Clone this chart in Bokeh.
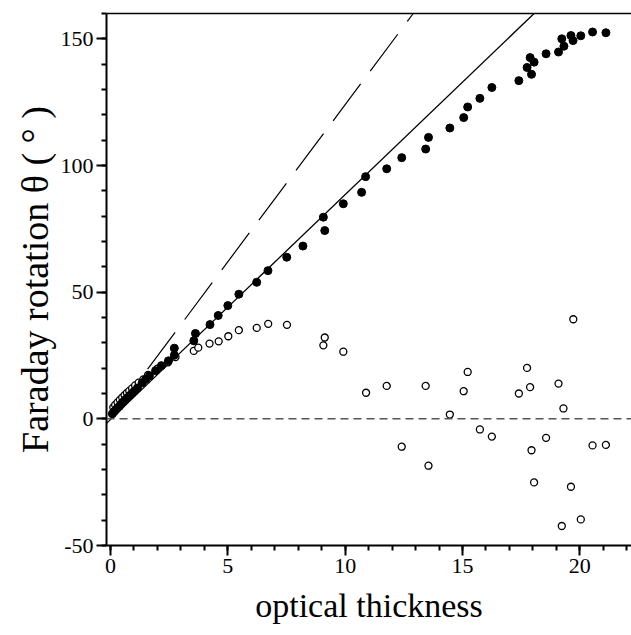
from bokeh.plotting import figure
from bokeh.models import LinearAxis, Range1d, FixedTicker, Span
from bokeh.embed import file_html
from bokeh.resources import INLINE

# ---- data ----
filled_x = [0.08, 0.15, 0.22, 0.30, 0.38, 0.45, 0.55, 0.63, 0.72, 0.82, 0.92, 1.02, 1.15,
            1.35, 1.50, 1.66, 1.92, 2.17, 2.47, 2.72, 2.72, 3.55, 3.62, 4.24, 4.59, 5.00,
            5.47, 6.23, 6.71, 7.51, 8.20, 9.07, 9.13, 9.92, 10.70, 10.87, 11.77, 12.41,
            13.43, 13.55, 14.46, 15.05, 15.22, 15.74, 16.25, 17.40, 17.75, 17.88, 17.94,
            18.05, 18.56, 19.09, 19.23, 19.32, 19.62, 19.71, 20.04, 20.54, 21.11]
filled_y = [2.0, 2.8, 3.5, 4.3, 5.0, 5.8, 6.7, 7.5, 8.3, 9.2, 10.1, 11.0, 12.2,
            14.2, 15.6, 17.0, 19.0, 21.0, 22.9, 25.1, 27.9, 30.8, 33.7, 37.2, 40.8, 44.7,
            49.2, 53.9, 58.5, 63.8, 68.2, 79.6, 74.3, 84.9, 89.4, 95.6, 98.7, 103.1,
            106.5, 111.1, 114.8, 118.9, 123.1, 126.5, 130.8, 133.5, 138.7, 142.6, 136.0,
            140.8, 144.1, 144.8, 150.0, 147.1, 151.3, 149.3, 151.2, 152.7, 152.4]

open_x = [0.12, 0.20, 0.30, 0.40, 0.50, 0.60, 0.70, 0.80, 0.92, 1.05, 1.20, 1.40, 1.60,
          2.00, 2.45, 2.77, 3.55, 3.74, 4.22, 4.61, 5.02, 5.47, 6.23, 6.72, 7.52, 9.07,
          9.13, 9.92, 10.89, 11.77, 12.41, 13.43, 13.55, 14.46, 15.05, 15.22, 15.74,
          16.25, 17.40, 17.75, 17.88, 17.94, 18.05, 18.56, 19.09, 19.23, 19.30, 19.62,
          19.72, 20.04, 20.54, 21.11]
open_y = [4.5, 5.5, 6.5, 7.5, 8.4, 9.3, 10.2, 11.0, 12.0, 13.2, 14.3, 15.6, 17.3,
          19.8, 22.3, 24.4, 26.8, 28.1, 29.7, 30.6, 32.6, 35.0, 35.9, 37.5, 37.1, 29.0,
          32.1, 26.5, 10.3, 13.0, -11.0, 13.0, -18.5, 1.7, 10.9, 18.5, -4.2,
          -7.0, 10.0, 20.1, 12.5, -12.4, -25.1, -7.5, 13.9, -42.3, 4.1, -26.8,
          39.3, -39.7, -10.5, -10.3]

fit_x = [-0.17, 18.05]
fit_y = [-1.8, 160.0]
steep_x = [0.0, 12.9]
steep_y = [0.0, 160.0]

x_ticks = [0, 5, 10, 15, 20]
x_minor = list(range(0, 23))
y_ticks = [-50, 0, 50, 100, 150]
y_minor = list(range(-50, 161, 10))

x_title = "optical thickness"
y_title = "Faraday rotation θ ( ° )"

FONT = "Liberation Serif"

p = figure(width=631, height=635, output_backend="svg", toolbar_location=None,
           x_range=Range1d(-0.17, 22.2), y_range=Range1d(-50, 160),
           min_border_left=106, min_border_right=0, min_border_top=13, min_border_bottom=90,
           x_axis_label=x_title, y_axis_label=y_title)
p.outline_line_color = None
p.grid.visible = False
p.background_fill_color = "white"
p.border_fill_color = "white"

for ax, ticks, minor in ((p.xaxis[0], x_ticks, x_minor), (p.yaxis[0], y_ticks, y_minor)):
    ax.ticker = FixedTicker(ticks=ticks, minor_ticks=minor)
    ax.axis_line_width = 2
    ax.major_tick_line_width = 2
    ax.minor_tick_line_width = 2
    ax.major_tick_out = 10
    ax.major_tick_in = 0
    ax.minor_tick_out = 5
    ax.minor_tick_in = 0
    ax.major_label_text_font = FONT
    ax.major_label_text_font_size = "22px"
    ax.major_label_text_color = "black"
    ax.axis_label_text_font = FONT
    ax.axis_label_text_font_style = "normal"
    ax.axis_label_text_color = "black"

p.yaxis.major_label_overrides = {-50: "-50"}
p.xaxis.axis_label_text_font_size = "34px"
p.yaxis.axis_label_text_font_size = "38px"
p.xaxis.major_label_standoff = 3
p.yaxis.major_label_standoff = 3
p.xaxis.axis_label_standoff = 11
p.yaxis.axis_label_standoff = 2

top = LinearAxis(ticker=FixedTicker(ticks=[]), major_tick_out=0, major_tick_in=0,
                 minor_tick_out=0, minor_tick_in=0, major_label_text_font_size="0px",
                 axis_line_width=1.5, major_label_standoff=0)
p.add_layout(top, "above")

p.add_layout(Span(location=0, dimension="width", line_color="#555555",
                  line_width=1.5, line_dash="8 5"))

p.line(steep_x, steep_y, line_color="black", line_width=1.2, line_dash="46 16")
p.line(fit_x, fit_y, line_color="black", line_width=1.3)

p.scatter(open_x, open_y, size=7, marker="circle", fill_color="white",
          line_color="black", line_width=1.3)
p.scatter(filled_x, filled_y, size=8, marker="circle", fill_color="black",
          line_color="black", line_width=1)

open("out.html", "w").write(file_html(p, INLINE))
